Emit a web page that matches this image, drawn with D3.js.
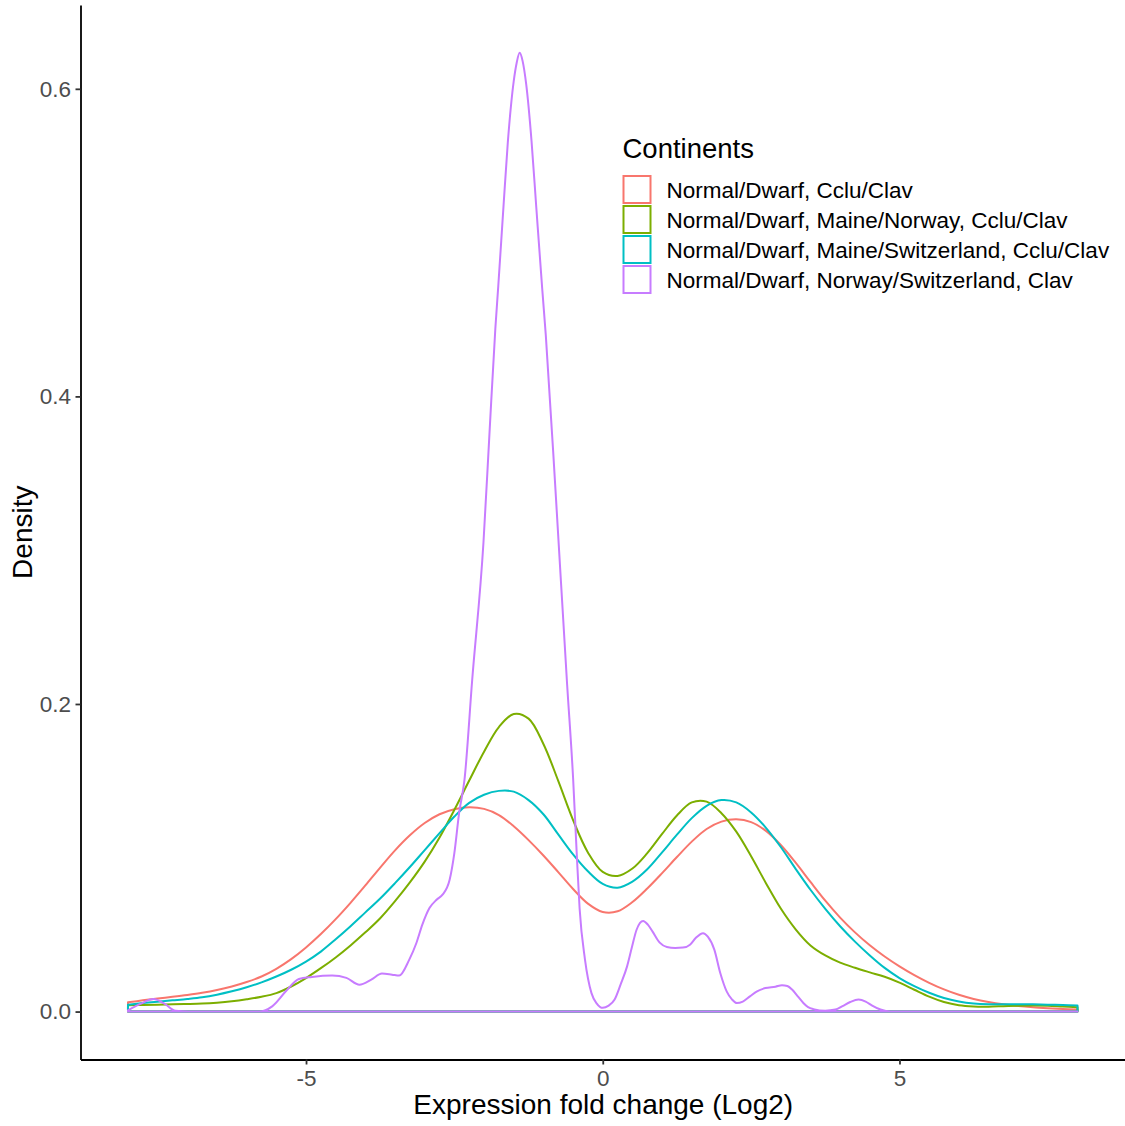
<!DOCTYPE html>
<html>
<head>
<meta charset="utf-8">
<script src="https://cdn.jsdelivr.net/npm/d3@7"></script>
<style>
  html, body { margin: 0; padding: 0; background: #ffffff; }
  svg { display: block; }
  text { font-family: "Liberation Sans", Arial, Helvetica, sans-serif; }
</style>
</head>
<body>
<svg id="chart" width="1125" height="1126"></svg>
<script>
// ---------------- data ----------------
const categories = [
  "Normal/Dwarf, Cclu/Clav",
  "Normal/Dwarf, Maine/Norway, Cclu/Clav",
  "Normal/Dwarf, Maine/Switzerland, Cclu/Clav",
  "Normal/Dwarf, Norway/Switzerland, Clav"
];
const colors = ["#F8766D", "#7CAE00", "#00BFC4", "#C77CFF"];
const legendTitle = "Continents";
const xTicks = [-5, 0, 5];
const xTickLabels = ["-5", "0", "5"];
const yTicks = [0, 0.2, 0.4, 0.6];
const yTickLabels = ["0.0", "0.2", "0.4", "0.6"];
const xTitle = "Expression fold change (Log2)";
const yTitle = "Density";

// evaluation grid for the three smooth densities
const gridX = [-8, -7.75, -7.5, -7.25, -7, -6.75, -6.5, -6.25, -6, -5.75, -5.5, -5.25,
  -5, -4.75, -4.5, -4.25, -4, -3.75, -3.5, -3.25, -3, -2.75, -2.5, -2.25,
  -2, -1.75, -1.5, -1.25, -1, -0.75, -0.5, -0.25, 0, 0.25, 0.5, 0.75,
  1, 1.25, 1.5, 1.75, 2, 2.25, 2.5, 2.75, 3, 3.25, 3.5, 3.75,
  4, 4.25, 4.5, 4.75, 5, 5.25, 5.5, 5.75, 6, 6.25, 6.5, 6.75,
  7, 7.25, 7.5, 7.75, 8];

const densCcluClav = [0.0060, 0.0073, 0.0085, 0.0096, 0.0108, 0.0122, 0.0140, 0.0163, 0.0192, 0.0228, 0.0278, 0.0341,
  0.0417, 0.0504, 0.0601, 0.0707, 0.0820, 0.0936, 0.1048, 0.1146, 0.1226, 0.1283, 0.1316, 0.1328,
  0.1318, 0.1278, 0.1205, 0.1115, 0.1015, 0.0907, 0.0797, 0.0702, 0.0648, 0.0652, 0.0712, 0.0800,
  0.0900, 0.1005, 0.1105, 0.1187, 0.1235, 0.1250, 0.1232, 0.1175, 0.1083, 0.0968, 0.0843, 0.0721,
  0.0611, 0.0515, 0.0431, 0.0358, 0.0294, 0.0237, 0.0187, 0.0144, 0.0109, 0.0082, 0.0062, 0.0047,
  0.0036, 0.0028, 0.0022, 0.0017, 0.0013];

const densMaineNorway = [0.0041, 0.0043, 0.0045, 0.0047, 0.0049, 0.0052, 0.0058, 0.0067, 0.0080, 0.0096, 0.0120, 0.0163,
  0.0218, 0.0282, 0.0352, 0.0430, 0.0515, 0.0607, 0.0718, 0.0840, 0.0975, 0.1132, 0.1312, 0.1502,
  0.1690, 0.1850, 0.1935, 0.1905, 0.1740, 0.1500, 0.1245, 0.1035, 0.0908, 0.0882, 0.0930, 0.1030,
  0.1155, 0.1275, 0.1360, 0.1365, 0.1290, 0.1170, 0.1010, 0.0835, 0.0670, 0.0535, 0.0430, 0.0365,
  0.0318, 0.0285, 0.0255, 0.0226, 0.0188, 0.0142, 0.0097, 0.0062, 0.0041, 0.0033, 0.0032, 0.0035,
  0.0038, 0.0039, 0.0038, 0.0033, 0.0028];

const densMaineSwitzerland = [0.0045, 0.0055, 0.0064, 0.0073, 0.0082, 0.0093, 0.0110, 0.0132, 0.0158, 0.0190, 0.0228, 0.0272,
  0.0325, 0.0390, 0.0470, 0.0555, 0.0645, 0.0735, 0.0835, 0.0940, 0.1050, 0.1160, 0.1268, 0.1357,
  0.1410, 0.1435, 0.1430, 0.1375, 0.1283, 0.1152, 0.1022, 0.0912, 0.0830, 0.0805, 0.0845, 0.0925,
  0.1035, 0.1150, 0.1258, 0.1338, 0.1375, 0.1360, 0.1295, 0.1195, 0.1070, 0.0928, 0.0792, 0.0668,
  0.0555, 0.0455, 0.0365, 0.0284, 0.0218, 0.0165, 0.0122, 0.0088, 0.0066, 0.0053, 0.0048, 0.0048,
  0.0048, 0.0047, 0.0045, 0.0042, 0.0039];

// the narrow, spiky density, read at its own x positions
const norwaySwitzerlandX = [-8.00, -7.79, -7.57, -7.38, -7.20, -6.98, -5.79, -5.57, -5.34, -5.12, -4.90, -4.56,
  -4.32, -4.10, -3.90, -3.72, -3.55, -3.43, -3.26, -3.14, -3.04, -2.92, -2.80, -2.70,
  -2.58, -2.50, -2.42, -2.33, -2.20, -2.01, -1.91, -1.81, -1.76, -1.67, -1.60, -1.50,
  -1.45, -1.40, -1.35, -1.29, -1.20, -1.12, -1.02, -0.96, -0.79, -0.60, -0.50, -0.44,
  -0.39, -0.30, -0.19, -0.10, 0.00, 0.10, 0.20, 0.30, 0.41, 0.49, 0.57, 0.68,
  0.76, 0.84, 0.96, 1.08, 1.22, 1.35, 1.47, 1.57, 1.69, 1.77, 1.88, 1.98,
  2.09, 2.18, 2.26, 2.36, 2.48, 2.60, 2.74, 2.91, 3.02, 3.11, 3.19, 3.29,
  3.38, 3.46, 3.55, 3.75, 3.92, 4.04, 4.17, 4.31, 4.43, 4.54, 4.68, 4.85, 8.00];
const densNorwaySwitzerland = [0.0008, 0.0050, 0.0081, 0.0050, 0.0005, 0.0000, 0.0000, 0.0034, 0.0132, 0.0212, 0.0225, 0.0234,
  0.0219, 0.0175, 0.0208, 0.0247, 0.0240, 0.0234, 0.0338, 0.0446, 0.0565, 0.0673, 0.0727, 0.0760,
  0.0857, 0.1032, 0.1292, 0.1506, 0.2156, 0.3050, 0.3750, 0.4440, 0.4720, 0.5250, 0.5650, 0.6050,
  0.6170, 0.6234, 0.6180, 0.6030, 0.5660, 0.5230, 0.4700, 0.4400, 0.3350, 0.2125, 0.1520, 0.1040,
  0.0670, 0.0340, 0.0120, 0.0052, 0.0024, 0.0039, 0.0078, 0.0175, 0.0294, 0.0416, 0.0532, 0.0589,
  0.0565, 0.0520, 0.0448, 0.0420, 0.0414, 0.0416, 0.0435, 0.0480, 0.0510, 0.0487, 0.0403, 0.0251,
  0.0130, 0.0078, 0.0055, 0.0065, 0.0099, 0.0132, 0.0153, 0.0162, 0.0171, 0.0166, 0.0143, 0.0097,
  0.0056, 0.0029, 0.0016, 0.0006, 0.0013, 0.0036, 0.0062, 0.0078, 0.0065, 0.0039, 0.0013, 0.0000, 0.0000];

// ---------------- build series ----------------
const series = [
  { name: categories[0], xs: gridX, ys: densCcluClav, curve: d3.curveCatmullRom.alpha(0.5) },
  { name: categories[1], xs: gridX, ys: densMaineNorway, curve: d3.curveCatmullRom.alpha(0.5) },
  { name: categories[2], xs: gridX, ys: densMaineSwitzerland, curve: d3.curveCatmullRom.alpha(0.5) },
  { name: categories[3], xs: norwaySwitzerlandX, ys: densNorwaySwitzerland, curve: d3.curveMonotoneX }
].map((s, i) => ({ ...s, color: colors[i], pts: s.xs.map((x, j) => [x, s.ys[j]]) }));

// ---------------- layout ----------------
const svg = d3.select("#chart");
const panel = { left: 80.5, right: 1125, top: 4.9, bottom: 1059.5 };

const xAll = series.flatMap(s => s.xs);
const yMax = d3.max(series.flatMap(s => s.ys));
const xMin = d3.min(xAll), xMax = d3.max(xAll);
const xPad = (xMax - xMin) * 0.05, yPad = yMax * 0.05;

const x = d3.scaleLinear().domain([xMin - xPad, xMax + xPad]).range([panel.left, panel.right]);
const y = d3.scaleLinear().domain([0 - yPad, yMax + yPad]).range([panel.bottom, panel.top]);

// ---------------- density outlines ----------------
const g = svg.append("g");
series.forEach(s => {
  const area = d3.area()
    .x(d => x(d[0]))
    .y0(y(0))
    .y1(d => y(d[1]))
    .curve(s.curve);
  g.append("path")
    .attr("d", area(s.pts))
    .attr("fill", "none")
    .attr("stroke", s.color)
    .attr("stroke-width", 2)
    .attr("stroke-linejoin", "round");
});

// ---------------- axes ----------------
const xAxis = d3.axisBottom(x).tickValues(xTicks).tickFormat((d, i) => xTickLabels[i])
  .tickSizeInner(5).tickSizeOuter(0).tickPadding(5.5);
const yAxis = d3.axisLeft(y).tickValues(yTicks).tickFormat((d, i) => yTickLabels[i])
  .tickSizeInner(5).tickSizeOuter(0).tickPadding(4.5);

const gx = svg.append("g").attr("transform", `translate(0,${panel.bottom})`).call(xAxis);
const gy = svg.append("g").attr("transform", `translate(${panel.left},0)`).call(yAxis);

[gx, gy].forEach(ax => {
  ax.select(".domain").attr("stroke", "#000000").attr("stroke-width", 1.8);
  ax.selectAll(".tick line").attr("stroke", "#333333").attr("stroke-width", 1.8);
  ax.selectAll(".tick text")
    .attr("fill", "#4D4D4D")
    .style("font-size", "22.5px")
    .style("font-family", "'Liberation Sans', Arial, sans-serif");
});

// axis titles
svg.append("text")
  .attr("x", (panel.left + panel.right) / 2 + 0.5)
  .attr("y", 1114)
  .attr("text-anchor", "middle")
  .attr("fill", "#000000")
  .style("font-size", "28px")
  .text(xTitle);

svg.append("text")
  .attr("transform", `translate(32,${(panel.top + panel.bottom) / 2}) rotate(-90)`)
  .attr("text-anchor", "middle")
  .attr("fill", "#000000")
  .style("font-size", "28px")
  .text(yTitle);

// ---------------- legend ----------------
const lg = svg.append("g").attr("transform", "translate(622.5,0)");
lg.append("text")
  .attr("x", 0)
  .attr("y", 158)
  .attr("fill", "#000000")
  .style("font-size", "27.5px")
  .text(legendTitle);

series.forEach((s, i) => {
  const cy = 189.5 + i * 30;
  lg.append("rect")
    .attr("x", 1)
    .attr("y", cy - 13.5)
    .attr("width", 27)
    .attr("height", 27)
    .attr("fill", "#ffffff")
    .attr("stroke", s.color)
    .attr("stroke-width", 2);
  lg.append("text")
    .attr("x", 44)
    .attr("y", cy + 8)
    .attr("fill", "#000000")
    .style("font-size", "22.5px")
    .text(s.name);
});
</script>
</body>
</html>
